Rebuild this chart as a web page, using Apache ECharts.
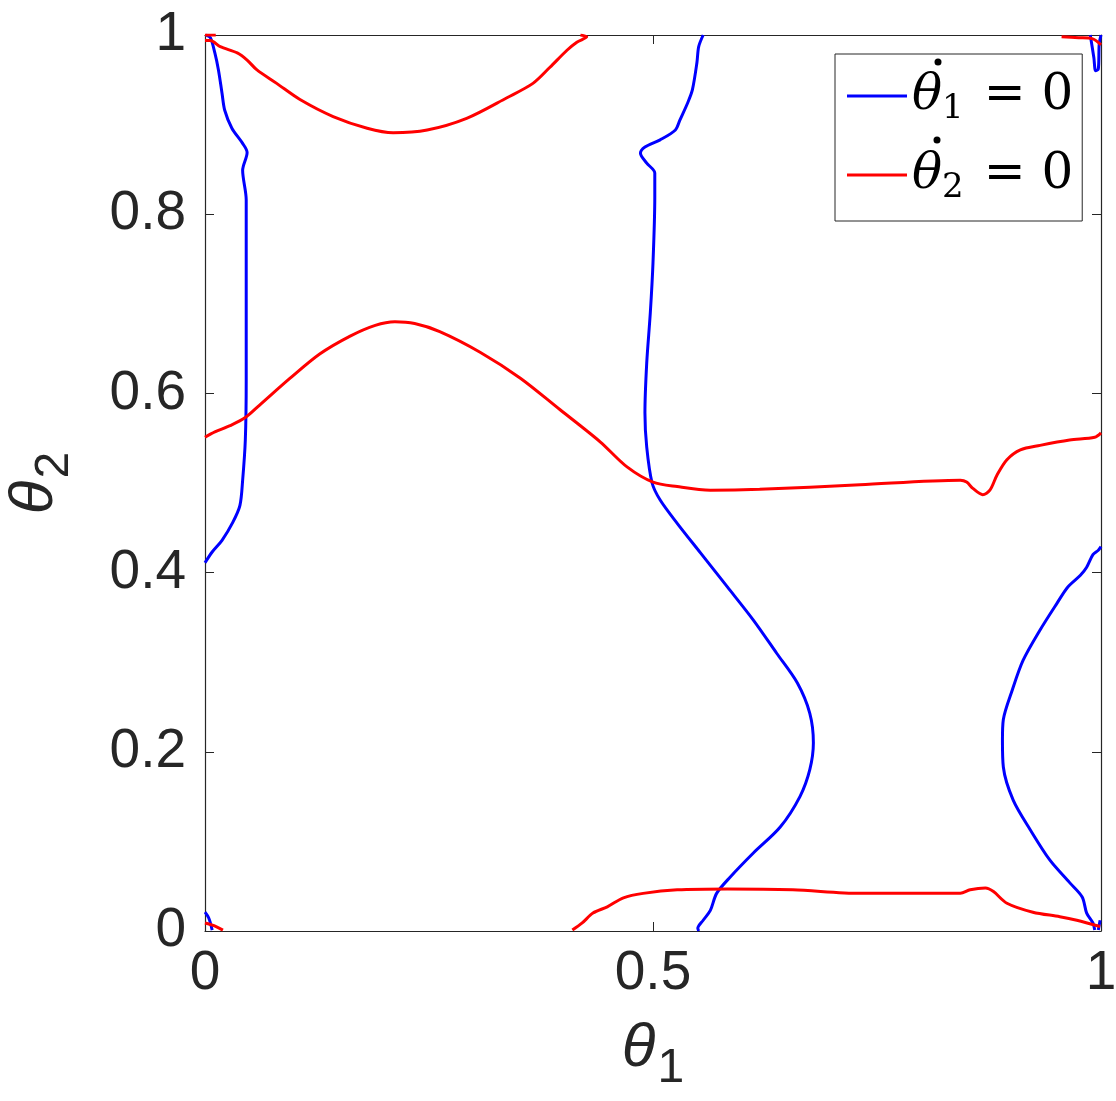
<!DOCTYPE html>
<html>
<head>
<meta charset="utf-8">
<script src="https://cdn.jsdelivr.net/npm/echarts@6/dist/echarts.min.js"></script>
<style>
  html, body { margin: 0; padding: 0; background: #fff; }
  #main { width: 1116px; height: 1101px; }
</style>
</head>
<body>
<div id="main"></div>
<script>
// nullcline traces, [theta1, theta2]
const blueLeft = [[0,0.411],[0.008,0.423],[0.019,0.436],[0.031,0.456],[0.039,0.475],[0.042,0.503],[0.045,0.548],[0.046,0.615],[0.046,0.704],[0.046,0.816],[0.042,0.849],[0.047,0.869],[0.042,0.879],[0.030,0.896],[0.022,0.916],[0.019,0.935],[0.015,0.961],[0.011,0.980],[0.006,0.997],[0.001,1.0]];
const blueMid = [[0.556,1.0],[0.551,0.987],[0.549,0.969],[0.544,0.939],[0.539,0.925],[0.530,0.905],[0.525,0.894],[0.508,0.883],[0.491,0.875],[0.486,0.868],[0.493,0.857],[0.502,0.846],[0.502,0.819],[0.500,0.746],[0.497,0.690],[0.493,0.634],[0.491,0.578],[0.493,0.540],[0.499,0.500],[0.508,0.481],[0.527,0.455],[0.553,0.422],[0.583,0.384],[0.612,0.347],[0.638,0.310],[0.661,0.277],[0.675,0.243],[0.679,0.210],[0.675,0.180],[0.664,0.150],[0.642,0.116],[0.612,0.087],[0.586,0.060],[0.571,0.042],[0.564,0.023],[0.556,0.012],[0.550,0.003],[0.551,0]];
const blueRight = [[1.0,0.429],[0.997,0.425],[0.991,0.420],[0.984,0.406],[0.977,0.397],[0.963,0.384],[0.951,0.366],[0.932,0.336],[0.913,0.302],[0.901,0.269],[0.891,0.236],[0.890,0.213],[0.891,0.183],[0.902,0.146],[0.921,0.113],[0.943,0.079],[0.965,0.054],[0.979,0.038],[0.984,0.020],[0.991,0.009],[0.993,0.001]];
const blueTopRight = [[0.988,1.0],[0.992,0.975],[0.994,0.960],[0.997,0.962],[0.998,0.990],[1.0,1.0]];
const blueBottomLeft = [[0,0.021],[0.004,0.015],[0.006,0.009],[0.008,0.001]];
const blueBottomRight = [[0.997,0.001],[0.999,0.012]];

const redMid = [[0,0.551],[0.011,0.557],[0.028,0.564],[0.045,0.573],[0.061,0.587],[0.095,0.617],[0.128,0.644],[0.162,0.664],[0.190,0.676],[0.212,0.680],[0.234,0.678],[0.262,0.669],[0.307,0.646],[0.352,0.617],[0.396,0.582],[0.441,0.546],[0.471,0.518],[0.500,0.501],[0.527,0.496],[0.564,0.492],[0.619,0.493],[0.731,0.498],[0.843,0.503],[0.850,0.501],[0.857,0.494],[0.868,0.487],[0.876,0.492],[0.884,0.509],[0.895,0.526],[0.910,0.537],[0.932,0.542],[0.965,0.548],[0.993,0.551],[1.0,0.556]];
const redTop = [[0,0.994],[0.006,0.994],[0.017,0.987],[0.036,0.980],[0.047,0.972],[0.058,0.961],[0.080,0.946],[0.106,0.928],[0.143,0.909],[0.181,0.896],[0.210,0.891],[0.248,0.894],[0.292,0.907],[0.337,0.930],[0.366,0.946],[0.385,0.964],[0.404,0.983],[0.415,0.992],[0.426,0.998],[0.419,1.0]];
const redBottom = [[0.410,0.001],[0.421,0.009],[0.433,0.020],[0.449,0.027],[0.467,0.037],[0.489,0.042],[0.527,0.046],[0.583,0.047],[0.656,0.046],[0.731,0.042],[0.843,0.042],[0.854,0.046],[0.871,0.048],[0.880,0.044],[0.895,0.031],[0.924,0.021],[0.954,0.016],[0.973,0.012],[0.999,0.005]];
const redBottomLeft = [[0,0.009],[0.010,0.006],[0.020,0.001]];
const redTopLeft = [[0,1.0],[0.012,1.0]];
const redTopRight = [[0.956,0.998],[0.975,0.997],[0.990,0.996],[1.0,0.989]];

const xTicks = [0, 0.5, 1];
const yTicks = [0, 0.2, 0.4, 0.6, 0.8, 1];
const legendNames = ['th1', 'th2'];

const axisColor = '#262626';

let myChart = echarts.init(document.getElementById('main'));

function seg(name, color, data) {
  return {
    name: name,
    type: 'line',
    data: data,
    showSymbol: false,
    symbol: 'none',
    smooth: 0.3,
    clip: true,
    lineStyle: { color: color, width: 3 },
    itemStyle: { color: color },
    animation: false
  };
}

const legendRich = {
  t: { fontFamily: 'DejaVu Serif', fontStyle: 'italic', fontSize: 50, color: '#000' },
  s: { fontFamily: 'DejaVu Serif', fontSize: 34, color: '#000', padding: [26, 0, 0, 0] },
  e: { fontFamily: 'DejaVu Serif', fontSize: 50, color: '#000', padding: [0, 0, 0, 4] }
};

const nameRich = {
  a: { fontFamily: 'Liberation Sans', fontStyle: 'italic', fontSize: 62, color: axisColor },
  b: { fontFamily: 'Liberation Sans', fontSize: 48, color: axisColor, padding: [40, 0, 0, 2] }
};

myChart.setOption({
  animation: false,
  backgroundColor: '#fff',
  grid: { left: 205, right: 15, top: 35, bottom: 170, containLabel: false, outerBoundsMode: 'none' },
  legend: {
    orient: 'vertical',
    left: 835,
    top: 54,
    data: legendNames,
    icon: 'rect',
    itemWidth: 60,
    itemHeight: 3,
    itemGap: 24,
    padding: [17, 9, 16, 12],
    borderColor: axisColor,
    borderWidth: 1,
    borderRadius: 0,
    backgroundColor: '#fff',
    formatter: function (name) {
      const k = name === 'th1' ? '1' : '2';
      return '{t|\u03B8}{s|' + k + '}{e| = 0}';
    },
    textStyle: { rich: legendRich }
  },
  // the dots over the legend's theta (time derivative)
  graphic: [
    { type: 'circle', shape: { cx: 938, cy: 62, r: 3.5 }, style: { fill: '#000' }, z: 100 },
    { type: 'circle', shape: { cx: 937, cy: 140, r: 3.5 }, style: { fill: '#000' }, z: 100 }
  ],
  xAxis: [
    {
      type: 'value', min: 0, max: 1, interval: 0.5, position: 'bottom',
      axisLine: { show: true, onZero: false, lineStyle: { color: axisColor, width: 1.2 } },
      axisTick: { show: true, inside: true, length: 9, lineStyle: { color: axisColor } },
      splitLine: { show: false },
      axisLabel: { fontFamily: 'Liberation Sans', fontSize: 55, color: axisColor, margin: 15,
        formatter: v => xTicks.includes(v) ? String(v) : '' },
      name: '{a|\u03B8}{b|1}',
      nameLocation: 'middle',
      nameGap: 74,
      nameTextStyle: { rich: nameRich }
    },
    {
      type: 'value', min: 0, max: 1, interval: 0.5, position: 'top',
      axisLine: { show: true, onZero: false, lineStyle: { color: axisColor, width: 1.2 } },
      axisTick: { show: true, inside: true, length: 9, lineStyle: { color: axisColor } },
      splitLine: { show: false },
      axisLabel: { show: false }
    }
  ],
  yAxis: [
    {
      type: 'value', min: 0, max: 1, interval: 0.2, position: 'left',
      axisLine: { show: true, onZero: false, lineStyle: { color: axisColor, width: 1.2 } },
      axisTick: { show: true, inside: true, length: 9, lineStyle: { color: axisColor } },
      splitLine: { show: false },
      axisLabel: { fontFamily: 'Liberation Sans', fontSize: 55, color: axisColor, margin: 19,
        formatter: v => String(+v.toFixed(1)) },
      name: '{a|\u03B8}{b|2}',
      nameLocation: 'middle',
      nameRotate: 90,
      nameGap: 126,
      nameTextStyle: { rich: nameRich }
    },
    {
      type: 'value', min: 0, max: 1, interval: 0.2, position: 'right',
      axisLine: { show: true, onZero: false, lineStyle: { color: axisColor, width: 1.2 } },
      axisTick: { show: true, inside: true, length: 9, lineStyle: { color: axisColor } },
      splitLine: { show: false },
      axisLabel: { show: false }
    }
  ],
  series: [
    seg('th1', '#0000ff', blueLeft),
    seg('th1', '#0000ff', blueMid),
    seg('th1', '#0000ff', blueRight),
    seg('th1', '#0000ff', blueTopRight),
    seg('th1', '#0000ff', blueBottomLeft),
    seg('th1', '#0000ff', blueBottomRight),
    seg('th2', '#ff0000', redMid),
    seg('th2', '#ff0000', redTop),
    seg('th2', '#ff0000', redBottom),
    seg('th2', '#ff0000', redBottomLeft),
    seg('th2', '#ff0000', redTopLeft),
    seg('th2', '#ff0000', redTopRight)
  ]
});
</script>
</body>
</html>
